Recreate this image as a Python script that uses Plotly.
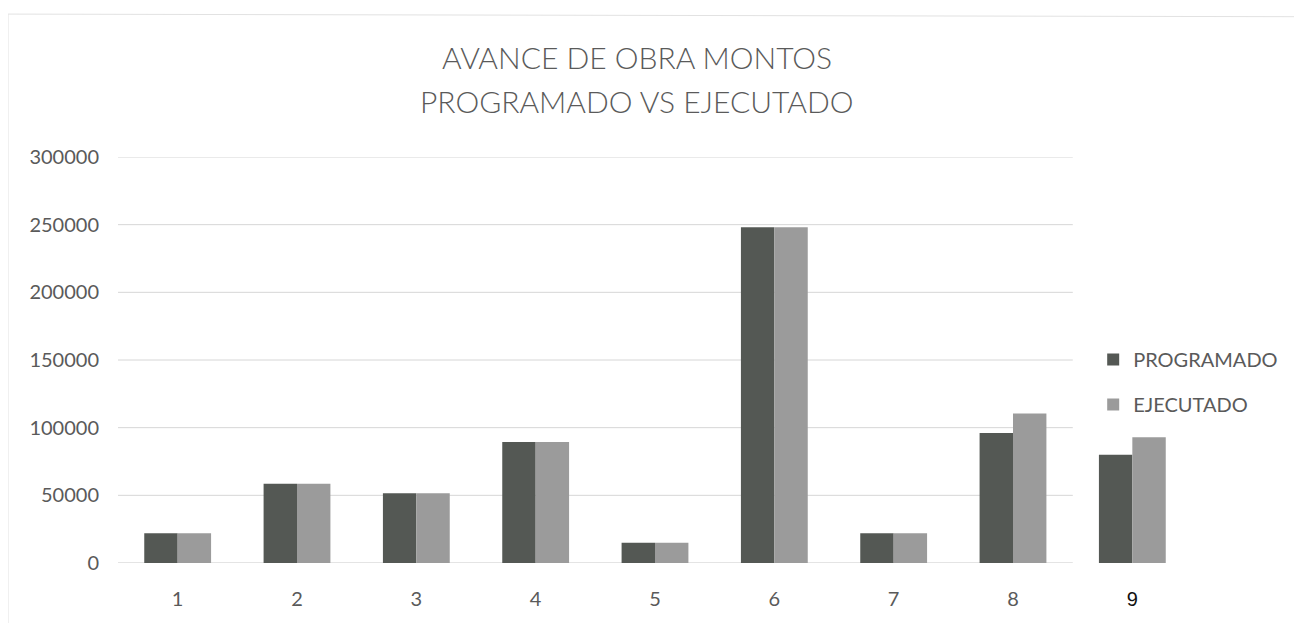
import plotly.graph_objects as go

categories = ["1", "2", "3", "4", "5", "6", "7", "8", "9"]
programado = [22000, 58500, 51500, 89500, 15000, 248000, 22000, 96000, 80000]
ejecutado = [22000, 58500, 51500, 89500, 15000, 248000, 22000, 110500, 93000]
y_ticks = [0, 50000, 100000, 150000, 200000, 250000, 300000]
y_ticktext = ["0", "50000", "100000", "150000", "200000", "250000", "300000"]
x_ticktext = ["1", "2", "3", "4", "5", "6", "7", "8",
              "<span style='color:#111111;font-family:Liberation Sans'>9</span>"]
title_lines = ["AVANCE DE OBRA MONTOS", "PROGRAMADO VS EJECUTADO"]

text_color = "#5a5a5a"
font_family = "Lato, Open Sans, sans-serif"

fig = go.Figure()
fig.add_trace(go.Bar(x=categories, y=programado, name="PROGRAMADO",
                     marker=dict(color="#545854", line=dict(width=0)),
                     legendgroup="a"))
fig.add_trace(go.Bar(x=categories, y=ejecutado, name="EJECUTADO",
                     marker=dict(color="#9b9b9b", line=dict(width=0)),
                     legendgroup="b"))

# gridlines ending where the original plot area ended
for v in y_ticks:
    fig.add_shape(type="line", xref="paper", yref="y", x0=0, x1=0.889, y0=v, y1=v,
                  line=dict(color="#d6d6d6" if v > 0 else "#c8c8c8", width=1), layer="below")

# title as two lines
for txt, yy in zip(title_lines, [1.247, 1.137]):
    fig.add_annotation(text=txt, xref="paper", yref="paper", x=0.4832, y=yy,
                       xanchor="center", yanchor="middle", showarrow=False,
                       font=dict(size=30, color=text_color, family=font_family, weight=300))

fig.update_layout(
    width=1302, height=623,
    paper_bgcolor="white", plot_bgcolor="white",
    margin=dict(l=110, r=118, t=149, b=68),
    barmode="group", bargap=0.44, bargroupgap=0,
    font=dict(family=font_family, color=text_color, size=20),
    legend=dict(x=0.908, xanchor="left", y=0.446, yanchor="middle",
                bgcolor="rgba(0,0,0,0)", font=dict(size=20, color=text_color),
                tracegroupgap=16, traceorder="grouped", itemwidth=30),
    showlegend=True,
)
fig.update_xaxes(type="category", tickmode="array", tickvals=categories, ticktext=x_ticktext,
                 showgrid=False, showline=False, ticks="outside", ticklen=18,
                 tickcolor="rgba(0,0,0,0)", tickfont=dict(size=20, color=text_color))
fig.update_yaxes(range=[0, 300000], tickmode="array", tickvals=y_ticks, ticktext=y_ticktext,
                 showgrid=False, zeroline=False,
                 showline=False, ticks="outside", ticklen=14, tickcolor="rgba(0,0,0,0)",
                 tickfont=dict(size=20, color=text_color))

# faint page border of the scanned chart (left and top edges)
fig.add_shape(type="line", xref="paper", yref="paper",
              x0=-110 / 1074, x1=-110 / 1074, y0=-0.2, y1=1.352,
              line=dict(color="#e2e2e2", width=1))
fig.add_shape(type="line", xref="paper", yref="paper",
              x0=-110 / 1074, x1=1.2, y0=1.352, y1=1.345,
              line=dict(color="#e2e2e2", width=1))

fig.write_html("out.html")
